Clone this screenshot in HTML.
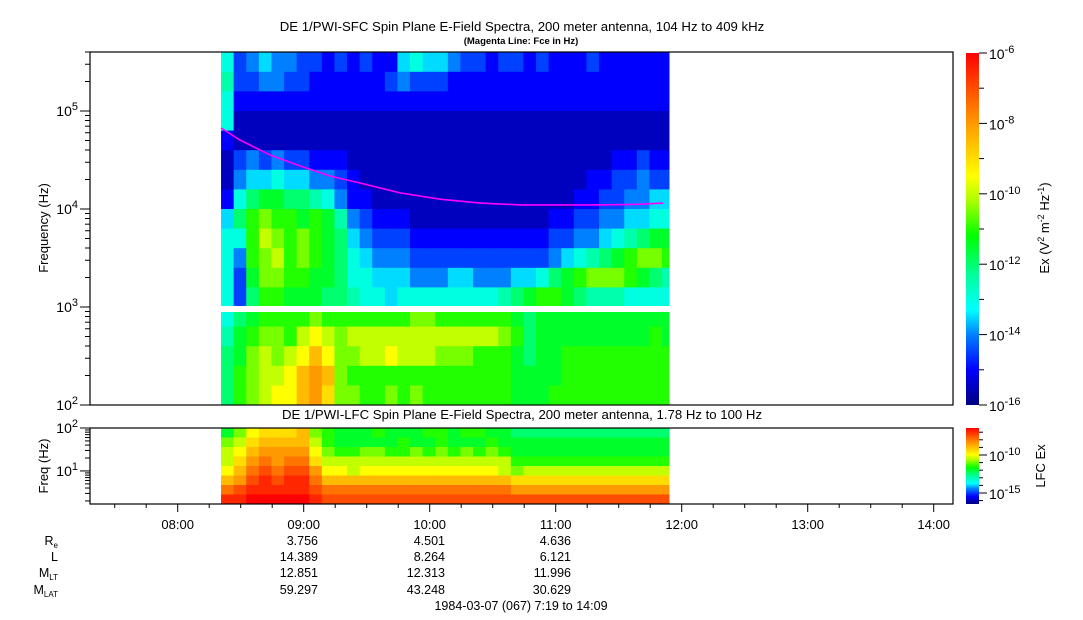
<!DOCTYPE html>
<html><head><meta charset="utf-8"><style>
body{margin:0;background:#fff;}
svg{display:block;font-family:"Liberation Sans",sans-serif;}
</style></head><body>
<svg id="chart" width="1083" height="620" viewBox="0 0 1083 620">
<defs>
<linearGradient id="cbar" x1="0" y1="1" x2="0" y2="0">
<stop offset="0" stop-color="#00007f"/><stop offset="0.1" stop-color="#0000ff"/><stop offset="0.2" stop-color="#0080ff"/><stop offset="0.27" stop-color="#00ffff"/><stop offset="0.37" stop-color="#00ff99"/><stop offset="0.48" stop-color="#00ff00"/><stop offset="0.58" stop-color="#aaff00"/><stop offset="0.65" stop-color="#ffff00"/><stop offset="0.8" stop-color="#ff9900"/><stop offset="1" stop-color="#ff0000"/>
</linearGradient>
</defs>
<g id="sfc"></g>
<g id="lfc"></g>
<rect x="215" y="306" width="460" height="6" fill="#fff"/>
<path id="fce" fill="none" stroke="#ff00ff" stroke-width="1.6"/>
<rect x="90" y="52" width="863" height="353" fill="none" stroke="#000" stroke-width="1.2"/>
<rect x="90" y="428" width="863" height="76" fill="none" stroke="#000" stroke-width="1.2"/>
<g id="ticks" stroke="#000" stroke-width="1"></g>
<g id="labels" font-size="13" fill="#000"></g>
<text x="522" y="31" font-size="13.2" text-anchor="middle">DE 1/PWI-SFC  Spin Plane E-Field Spectra, 200 meter antenna, 104 Hz to 409 kHz</text>
<text x="521" y="44" font-size="9.5" font-weight="bold" text-anchor="middle">(Magenta Line: Fce in Hz)</text>
<text x="522" y="419" font-size="13.2" text-anchor="middle">DE 1/PWI-LFC  Spin Plane E-Field Spectra, 200 meter antenna, 1.78 Hz to 100 Hz</text>
<text transform="translate(48,228) rotate(-90)" font-size="13" text-anchor="middle">Frequency (Hz)</text>
<text transform="translate(48,466) rotate(-90)" font-size="13" text-anchor="middle">Freq (Hz)</text>
<rect x="966" y="53" width="13" height="352" fill="url(#cbar)"/>
<rect x="966" y="428" width="13" height="76" fill="url(#cbar)"/>
<text transform="translate(1049,228) rotate(-90)" font-size="13" text-anchor="middle">Ex (V<tspan dy="-5" font-size="9">2</tspan><tspan dy="5"> m</tspan><tspan dy="-5" font-size="9">-2</tspan><tspan dy="5"> Hz</tspan><tspan dy="-5" font-size="9">-1</tspan><tspan dy="5">)</tspan></text>
<text transform="translate(1045,466) rotate(-90)" font-size="13" text-anchor="middle">LFC Ex</text>
<g font-size="12.5">
<text x="58" y="545" text-anchor="end">R<tspan font-size="8" dy="3">e</tspan></text>
<text x="58" y="561" text-anchor="end">L</text>
<text x="58" y="577" text-anchor="end">M<tspan font-size="8" dy="3">LT</tspan></text>
<text x="58" y="594" text-anchor="end">M<tspan font-size="8" dy="3">LAT</tspan></text>
<text x="318" y="545" text-anchor="end">3.756</text><text x="445" y="545" text-anchor="end">4.501</text><text x="571" y="545" text-anchor="end">4.636</text>
<text x="318" y="561" text-anchor="end">14.389</text><text x="445" y="561" text-anchor="end">8.264</text><text x="571" y="561" text-anchor="end">6.121</text>
<text x="318" y="577" text-anchor="end">12.851</text><text x="445" y="577" text-anchor="end">12.313</text><text x="571" y="577" text-anchor="end">11.996</text>
<text x="318" y="594" text-anchor="end">59.297</text><text x="445" y="594" text-anchor="end">43.248</text><text x="571" y="594" text-anchor="end">30.629</text>
<text x="521" y="610" text-anchor="middle">1984-03-07 (067) 7:19 to 14:09</text>
</g>
</svg>
<script>
// levels: char 0-9,A-K => L 0..20 ; log10 value = -16 + L*0.5
const sfcRows = [
"634544 332323 225655 433233 232223 222222",
"733443 322222 234333 222222 222222 222222",
"622222 222222 222222 222222 222222 222222",
"611111 111111 111111 111111 111111 111111",
"211111 111111 111111 111111 111111 111111",
"134343 322211 111111 111111 111111 122322",
"145565 544321 111111 111111 111112 233433",
"268998 876422 111111 111111 111122 334455",
"58ABAA 9A9743 222111 111111 112233 445566",
"66ACBA BA9854 333222 222222 223344 567899",
"64ABCA BA9865 444333 333333 334567 89ABBA",
"639BBA A99866 555444 554445 5689AB BBA987",
"638AA9 998876 656666 666678 9AA987 776666",
"689AAA ABAAAA AAABBA AAAAA9 899999 999999",
"79ABBA CDCBCC CCCCCC CCCCBA 899999 9999A9",
"89BCBC DFDBBC CDCCCB BBAAA9 899AAA AAAAAA",
"8ABCCD FGFBAA AAAAAA AAAAA9 999AAA AAAAAA",
"8ABCDD FGEBBA ABABAA AAAAA9 99AAAA AAAAAA"
];
const lfcRows = [
"9BDEEE FBA999 A999AA 9AA998 888888 888888",
"BCEFFF FCA999 99A99A 999A99 999999 999999",
"CDFGGG GDBAAB BAABAB ABABA9 999999 999999",
"CEGHGH HECCCC CCCCCC CCCCCA AAAAAA AAAAAA",
"DFHIHI IGDDCD DDDDDD DDDDCB CCCCCC CCCCCC",
"FGIJIJ JHFFFF FFFFFF FFFFFE EEEEEE EEEEEE",
"HIJJJJ JIHHHH HHHHHH HHHHHG GGGGGG GGGGGG",
"JJKKKK KJIIII IIIIII IIIIII IIIIII IIIIII"
];
const colStartHour = 8.344, colStepHour = 0.1, dataEndHour = 11.9;
const sfcTopLog = 5.6, sfcRowStep = 0.2;
const lfcTopLog = 2.0, lfcBottomLog = 0.23;
const fceHours = [8.344,8.494,8.733,8.971,9.209,9.447,9.764,10.082,10.399,10.717,11.034,11.352,11.669,11.852];
const fceHz = [67100,50600,35600,27500,21700,18400,14600,12600,11500,11000,11000,11000,11200,11500];
const hourTicks = ["08:00","09:00","10:00","11:00","12:00","13:00","14:00"];
const sfcDecades = [2,3,4,5];
const cbTicks = [-6,-8,-10,-12,-14,-16];

const NS="http://www.w3.org/2000/svg";
const xOf = h => 177.7 + (h-8)*126;
const ySfc = lg => 405 - (lg-2)*98;
const yLfc = lg => 428 + (lfcTopLog-lg)*(76/(lfcTopLog-lfcBottomLog));
const stops=[[-16,[0,0,127]],[-15,[0,0,255]],[-14,[0,128,255]],[-13.3,[0,255,255]],[-12.3,[0,255,153]],[-11.2,[0,255,0]],[-10.2,[170,255,0]],[-9.5,[255,255,0]],[-8,[255,153,0]],[-6,[255,0,0]]];
function color(v){
  if(v<=stops[0][0]) return "rgb(0,0,127)";
  for(let i=1;i<stops.length;i++){ if(v<=stops[i][0]){const a=stops[i-1],b=stops[i],t=(v-a[0])/(b[0]-a[0]);
    return "rgb("+a[1].map((c,k)=>Math.round(c+(b[1][k]-c)*t)).join(",")+")";}}
  return "rgb(255,0,0)";
}
const lev = ch => parseInt(ch,36);
function drawGrid(rows, g, yTop, yBot){
  rows.forEach((rs,r)=>{
    const s=rs.replace(/ /g,"");
    for(let c=0;c<s.length;c++){
      const h0=colStartHour+c*colStepHour, h1=Math.min(dataEndHour,h0+colStepHour);
      if(h0>=dataEndHour) break;
      const x0=xOf(h0), x1=xOf(h1);
      const e=document.createElementNS(NS,"rect");
      
      
      e.setAttribute("x",x0.toFixed(2)); e.setAttribute("width",(x1-x0+0.4).toFixed(2));
      const ya=yTop(r), yb=yBot(r);
      e.setAttribute("y",ya.toFixed(2)); e.setAttribute("height",(yb-ya+0.4).toFixed(2));
      e.setAttribute("fill",color(-16+lev(s[c])*0.5));
      g.appendChild(e);
    }
  });
}
drawGrid(sfcRows, document.getElementById("sfc"), r=>ySfc(sfcTopLog-r*sfcRowStep), r=>ySfc(sfcTopLog-(r+1)*sfcRowStep));
const lstep=(lfcTopLog-lfcBottomLog)/lfcRows.length;
drawGrid(lfcRows, document.getElementById("lfc"), r=>yLfc(lfcTopLog-r*lstep), r=>yLfc(lfcTopLog-(r+1)*lstep));
document.getElementById("fce").setAttribute("d", fceHours.map((h,i)=>(i?"L":"M")+xOf(h).toFixed(1)+","+ySfc(Math.log10(fceHz[i])).toFixed(1)).join(""));

const tk=document.getElementById("ticks"), lb=document.getElementById("labels");
function line(x1,y1,x2,y2,name){const e=document.createElementNS(NS,"line");
  
  
  e.setAttribute("x1",x1);e.setAttribute("y1",y1);e.setAttribute("x2",x2);e.setAttribute("y2",y2);tk.appendChild(e);}
function pow(x,y,exp,name,anchor,fs){const t=document.createElementNS(NS,"text");
  
  
  t.setAttribute("x",x);t.setAttribute("y",y);t.setAttribute("text-anchor",anchor||"end");t.setAttribute("font-size",fs||14);
  t.innerHTML='10<tspan dy="-6" font-size="'+((fs||14)-3)+'">'+exp+'</tspan>';lb.appendChild(t);}
for(let d=2; d<=5; d++){ for(let m=1;m<10;m++){const lg=d+Math.log10(m); if(lg>5.61) break; const y=ySfc(lg);
  line(90,y,m===1?80:85,y,'sfc-y-tick');}}
sfcDecades.forEach(d=>pow(78,ySfc(d)+5,d,'sfc-y-tick-label'));
for(let d=0; d<=2; d++){ for(let m=1;m<10;m++){const lg=d+Math.log10(m); if(lg<lfcBottomLog||lg>2.001) continue; const y=yLfc(lg);
  line(90,y,m===1?80:85,y,'lfc-y-tick');}}
pow(78,yLfc(2)+5,2,'lfc-y-tick-label');pow(78,yLfc(1)+5,1,'lfc-y-tick-label');
for(let q=0;q<28;q++){const h=7.25+q*0.25; const x=xOf(h); if(x<90||x>953) continue;
  line(x,504,x,(q%4===3)?512:508,'x-tick');}
hourTicks.forEach((s,i)=>{const t=document.createElementNS(NS,"text");
  
  
  t.setAttribute("x",xOf(8+i));t.setAttribute("y",529);t.setAttribute("text-anchor","middle");t.setAttribute("font-size",13);t.textContent=s;lb.appendChild(t);});
cbTicks.forEach(v=>{const y=53+(-6-v)/10*352; line(979,y,987,y,'colorbar-tick'); pow(989,y+6,v,'colorbar-tick-label','start',14);});
for(let v=-7;v>=-15;v-=2){const y=53+(-6-v)/10*352; line(979,y,984,y,'colorbar-minor-tick');}
[-10,-15].forEach(v=>{const y=455+(-10-v)/5*38; line(979,y,987,y,'lfc-colorbar-tick'); pow(989,y+6,v,'lfc-colorbar-tick-label','start',14);});
for(let v=-7;v>=-16;v--){ if(v===-10||v===-15) continue; const y=455+(-10-v)/5*38; if(y<428||y>504) continue; line(979,y,983,y,'lfc-colorbar-minor-tick');}
</script>
</body></html>
